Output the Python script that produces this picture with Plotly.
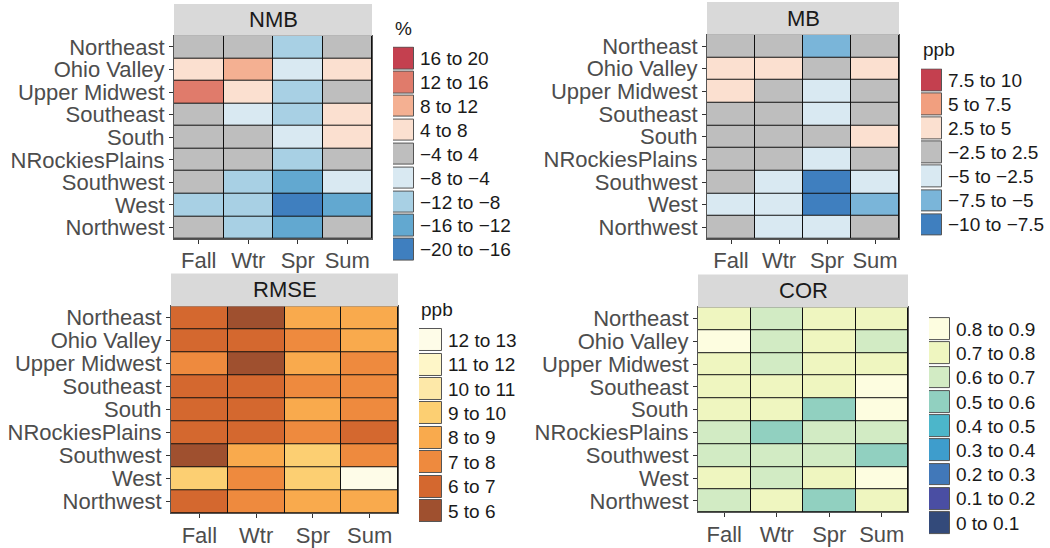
import numpy as np
import plotly.graph_objects as go

W, H = 1050, 548

regions = ["Northeast", "Ohio Valley", "Upper Midwest", "Southeast", "South",
           "NRockiesPlains", "Southwest", "West", "Northwest"]
seasons = ["Fall", "Wtr", "Spr", "Sum"]

# ---- values (rows = regions, cols = seasons) ----
nmb_values = [
    [1.5, -2.0, -9.5, 0.8],
    [6.0, 9.5, -5.5, 5.0],
    [13.5, 5.5, -10.0, 2.0],
    [-1.0, -6.0, -9.0, 6.0],
    [2.5, -3.0, -6.5, 5.5],
    [-2.0, -1.5, -9.5, -0.5],
    [-3.5, -10.5, -13.5, -5.0],
    [-9.5, -10.0, -18.0, -14.0],
    [-2.5, -10.5, -14.5, -1.0],
]
mb_values = [
    [0.5, -1.0, -6.0, 0.5],
    [3.0, 3.0, 1.0, 3.5],
    [3.5, 1.0, -3.0, 1.5],
    [-0.5, -1.5, -3.5, 2.0],
    [1.0, -1.0, -2.0, 3.0],
    [-1.0, -1.5, -3.0, -0.5],
    [-2.0, -3.5, -8.5, -3.0],
    [-3.5, -3.5, -9.0, -6.0],
    [-1.5, -3.5, -4.0, -0.5],
]
rmse_values = [
    [6.5, 5.7, 8.5, 8.6],
    [6.6, 6.4, 7.6, 8.4],
    [7.7, 5.6, 8.4, 7.5],
    [6.5, 6.6, 7.5, 7.6],
    [6.6, 6.5, 8.3, 7.4],
    [6.6, 6.5, 7.4, 6.8],
    [5.8, 8.5, 9.5, 7.6],
    [9.4, 7.5, 9.5, 12.3],
    [6.6, 7.6, 8.4, 8.5],
]
cor_values = [
    [0.75, 0.65, 0.74, 0.73],
    [0.82, 0.66, 0.72, 0.68],
    [0.74, 0.67, 0.73, 0.72],
    [0.76, 0.72, 0.73, 0.81],
    [0.74, 0.71, 0.56, 0.82],
    [0.66, 0.57, 0.65, 0.67],
    [0.64, 0.66, 0.65, 0.58],
    [0.73, 0.68, 0.71, 0.83],
    [0.65, 0.72, 0.55, 0.74],
]

# ---- bins, labels, palettes (lowest bin first) ----
nmb_edges = [-20, -16, -12, -8, -4, 4, 8, 12, 16, 20]
mb_edges = [-10, -7.5, -5, -2.5, 2.5, 5, 7.5, 10]
rmse_edges = [5, 6, 7, 8, 9, 10, 11, 12, 13]
cor_edges = [0, 0.1, 0.2, 0.3, 0.4, 0.5, 0.6, 0.7, 0.8, 0.9]

nmb_colors = ["#3f7fbf", "#62a8d0", "#a8d0e4", "#d9e9f2", "#bebebe",
              "#fbe0d0", "#f4b092", "#e07b6b", "#c4404f"]
mb_colors = ["#3f7fbf", "#7ab5d9", "#d9e9f2", "#bebebe",
             "#fbe0d0", "#f19f7f", "#c4404f"]
rmse_colors = ["#9f502f", "#d4682f", "#ee8a3e", "#f9aa4d", "#fccf72",
               "#fde8a8", "#fef6c8", "#fefce8"]
cor_colors = ["#334a7a", "#4a4ea3", "#4178b9", "#3e9dcc", "#4cb6ca",
              "#91d0c0", "#d2ebc4", "#eff6c0", "#fdfde0"]


def fmt(v):
    s = ("%g" % v)
    return s.replace("-", "\u2212")


def labels_from(edges):
    return [f"{fmt(a)} to {fmt(b)}" for a, b in zip(edges[:-1], edges[1:])]


panels = [
    dict(title="NMB", vals=nmb_values, edges=nmb_edges, colors=nmb_colors, unit="%",
         plot=(174, 372, 35, 240), strip=(3, 35), leg=(393, 414, 46, 263)),
    dict(title="MB", vals=mb_values, edges=mb_edges, colors=mb_colors, unit="ppb",
         plot=(707, 899, 34, 240), strip=(1, 34), leg=(921, 942, 68, 238)),
    dict(title="RMSE", vals=rmse_values, edges=rmse_edges, colors=rmse_colors, unit="ppb",
         plot=(171, 398, 308, 517), strip=(275, 308), leg=(419, 442, 330, 527)),
    dict(title="COR", vals=cor_values, edges=cor_edges, colors=cor_colors, unit="",
         plot=(698, 908, 309, 516), strip=(276, 309), leg=(929, 950, 319, 539)),
]


def px(x):
    return x / W


def py(y):
    return 1 - y / H


fig = go.Figure()
layout = dict(width=W, height=H, margin=dict(l=0, r=0, t=0, b=0),
              paper_bgcolor="white", plot_bgcolor="white", showlegend=False,
              font=dict(family="Liberation Sans, Arial, sans-serif", color="#4d4d4d"))
shapes, annotations = [], []

for i, p in enumerate(panels):
    k = i + 1
    xa, ya = ("x" if k == 1 else f"x{k}"), ("y" if k == 1 else f"y{k}")
    n = len(p["colors"])
    vals = np.array(p["vals"], dtype=float)
    idx = np.digitize(vals, p["edges"][1:-1])
    cs = []
    for j, c in enumerate(p["colors"]):
        cs.append([j / n, c])
        cs.append([(j + 1) / n, c])
    fig.add_trace(go.Heatmap(
        x=seasons, y=regions, z=idx, zmin=-0.5, zmax=n - 0.5, colorscale=cs,
        showscale=False, xgap=1, ygap=1, xaxis=xa, yaxis=ya, hoverinfo="skip"))
    x0, x1, y0, y1 = p["plot"]
    layout["xaxis" if k == 1 else f"xaxis{k}"] = dict(
        domain=[px(x0), px(x1)], anchor=ya, showgrid=False, zeroline=False,
        tickmode="array", tickvals=seasons, ticktext=seasons,
        ticks="outside", ticklen=4, tickcolor="#333333", showline=True,
        linecolor="#555555", mirror=True, linewidth=1, ticklabelstandoff=-2,
        tickfont=dict(size=22, color="#4d4d4d"))
    layout["yaxis" if k == 1 else f"yaxis{k}"] = dict(
        domain=[py(y1), py(y0)], anchor=xa, showgrid=False, zeroline=False,
        tickmode="array", tickvals=regions, ticktext=regions,
        autorange="reversed", ticks="outside", ticklen=4, tickcolor="#333333",
        showline=True, linecolor="#555555", mirror=True, linewidth=1,
        tickfont=dict(size=22, color="#4d4d4d"))
    # dark background behind cells -> cell borders
    shapes.append(dict(type="rect", xref=f"{xa} domain", yref=f"{ya} domain",
                       x0=0, x1=1, y0=0, y1=1, fillcolor="#111111",
                       line=dict(width=0), layer="below"))
    # strip
    s0, s1 = p["strip"]
    shapes.append(dict(type="rect", xref="paper", yref="paper",
                       x0=px(x0), x1=px(x1), y0=py(s1), y1=py(s0),
                       fillcolor="#d9d9d9", line=dict(width=0)))
    annotations.append(dict(text=p["title"], xref="paper", yref="paper",
                            x=px((x0 + x1) / 2), y=py((s0 + s1) / 2),
                            showarrow=False, xanchor="center", yanchor="middle",
                            font=dict(size=22, color="#1a1a1a")))
    # legend as a bar subplot
    kl = k + 4
    lxa, lya = f"x{kl}", f"y{kl}"
    labs = labels_from(p["edges"])
    labs_top = labs[::-1]
    cols_top = p["colors"][::-1]
    fig.add_trace(go.Bar(
        x=[1] * n, y=labs_top, orientation="h", width=0.9,
        marker=dict(color=cols_top, line=dict(color="#555555", width=1)),
        xaxis=lxa, yaxis=lya, hoverinfo="skip"))
    lx0, lx1, ly0, ly1 = p["leg"]
    layout[f"xaxis{kl}"] = dict(domain=[px(lx0), px(lx1)], anchor=lya,
                                range=[0, 1], visible=False, fixedrange=True)
    layout[f"yaxis{kl}"] = dict(domain=[py(ly1), py(ly0)], anchor=lxa,
                                autorange="reversed", side="right",
                                tickmode="array", tickvals=labs_top, ticktext=labs_top,
                                showgrid=False, zeroline=False, showline=False,
                                ticks="", ticklabelstandoff=5,
                                tickfont=dict(size=19, color="#1a1a1a"))
    if p["unit"]:
        annotations.append(dict(text=p["unit"], xref="paper", yref="paper",
                                x=px(lx0), y=py(ly0 - 6), showarrow=False,
                                xanchor="left", yanchor="bottom",
                                font=dict(size=19, color="#1a1a1a")))

layout["shapes"] = shapes
layout["annotations"] = annotations
layout["bargap"] = 0
fig.update_layout(**layout)
fig.write_html("out.html", config={"displayModeBar": False},
               post_script="document.body.style.margin='0';document.body.style.overflow='hidden';")
